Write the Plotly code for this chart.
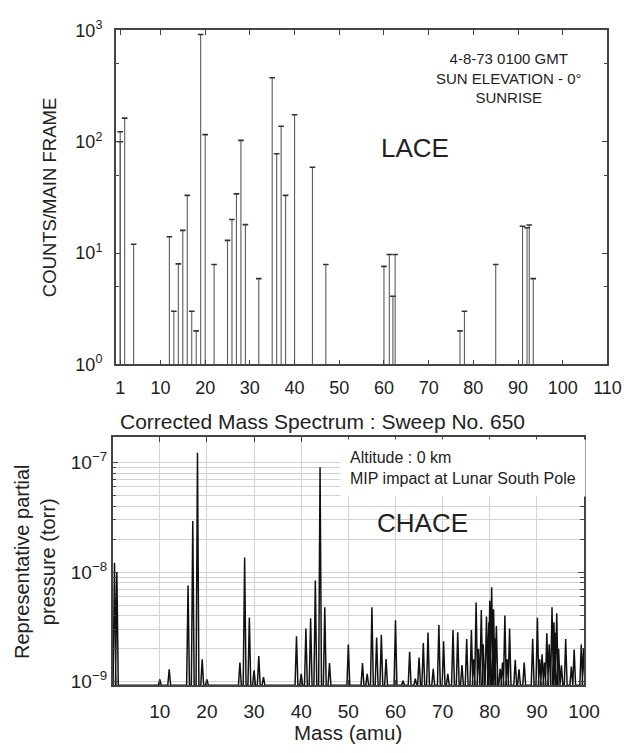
import plotly.graph_objects as go

# ---- LACE (Apollo 17) counts per main frame ----
lace_mass = [1, 1, 2, 4, 12, 13, 14, 15, 16, 17, 18, 19, 20, 22, 25, 26, 27, 28, 29,
             32, 35, 36, 37, 38, 40, 44, 47, 60, 61.2, 62.0, 62.5, 77, 78, 85,
             91, 92, 92.5, 93.4]
lace_counts = [123, 100, 163, 12, 14, 3.0, 8.0, 16, 33, 3.0, 2.0, 920, 116, 7.9, 13, 20, 34, 103, 18,
               5.9, 376, 78, 138, 33, 175, 59, 7.9, 7.6, 9.7, 4.1, 9.7, 2.0, 3.0, 7.9,
               17.4, 16.9, 17.9, 5.9]

# ---- CHACE (Chandrayaan-1 MIP) corrected spectrum peaks ----
chace_mass = [0.4, 0.9, 10, 12, 16, 17, 18, 19, 20, 27, 28, 29, 30, 31, 32,
              39, 40, 41, 42, 43, 44, 45, 46, 50, 53, 54, 55, 56, 57, 58, 60, 61.6,
              63, 64.2, 65, 65.9, 66.9, 68, 69.2, 70.2, 71.1, 72.2, 73.2, 74.1, 75.1,
              76.1, 76.6, 77.1, 77.6, 78.2, 78.6, 79.3, 79.8, 80.0, 80.4, 80.8, 81.0,
              81.4, 82.2, 82.7, 83.2, 83.7, 84.2, 85.4, 86.2, 87.3, 89.1, 90.1, 90.6,
              91.1, 91.6, 92.1, 92.6, 93.2, 93.6, 93.8, 94.2, 94.6, 95.2, 96.1, 97.3,
              97.9, 99.4, 99.9]
chace_pressure = [1.22e-8, 1.0e-8, 1.05e-9, 1.3e-9, 7.55e-9, 2.94e-8, 1.23e-7, 1.6e-9, 1.05e-9,
                  1.5e-9, 1.36e-8, 3.85e-9, 1.27e-9, 1.72e-9, 1.1e-9,
                  2.6e-9, 1.18e-9, 3.07e-9, 3.8e-9, 8.4e-9, 9.1e-8, 4.78e-9, 1.48e-9, 2.19e-9,
                  1.48e-9, 1.18e-9, 4.78e-9, 2.54e-9, 2.68e-9, 1.61e-9, 3.64e-9, 1.02e-9,
                  1.88e-9, 1.07e-9, 1.66e-9, 2.26e-9, 2.81e-9, 1.31e-9, 3.29e-9, 2.34e-9,
                  1.18e-9, 2.97e-9, 2.83e-9, 1.42e-9, 2.45e-9,
                  2.97e-9, 1.6e-9, 5.3e-9, 2.0e-9, 4.53e-9, 2.2e-9, 3.95e-9, 3.5e-9, 5.5e-9,
                  7.3e-9, 4.6e-9, 2.5e-9,
                  3.22e-9, 1.31e-9, 1.5e-9, 4.03e-9, 1.6e-9, 3.07e-9, 1.59e-9, 1.3e-9, 1.5e-9,
                  2.47e-9, 3.83e-9, 1.6e-9,
                  1.78e-9, 1.5e-9, 2.77e-9, 2.2e-9, 4.78e-9, 3.5e-9, 2.8e-9, 4.23e-9, 2.0e-9,
                  1.41e-9, 2.45e-9, 1.38e-9,
                  1.97e-9, 2.19e-9, 2.0e-9]
chace_floor = 9.3e-10

lace_xticks = [1, 10, 20, 30, 40, 50, 60, 70, 80, 90, 100, 110]
chace_xticks = [10, 20, 30, 40, 50, 60, 70, 80, 90, 100]

W, H = 642, 753


def px(x):
    return x / W


def py(y):
    return 1 - y / H


FONT = "Liberation Sans, Arial, sans-serif"
fig = go.Figure()

# LACE stems with small caps
sx, sy = [], []
for m, c in zip(lace_mass, lace_counts):
    sx += [m, m, None]
    sy += [1, c, None]
fig.add_trace(go.Scatter(x=sx, y=sy, mode="lines", line=dict(color="#5c5c5c", width=1.1),
                         xaxis="x", yaxis="y", hoverinfo="skip", showlegend=False))
fig.add_trace(go.Scatter(x=lace_mass, y=lace_counts, mode="markers",
                         marker=dict(symbol="line-ew", size=4, line=dict(color="#333", width=1.6)),
                         xaxis="x", yaxis="y", showlegend=False))

# CHACE spectrum as narrow peaks over the floor
half = 0.3
cx, cy = [], []
for m, p in sorted(zip(chace_mass, chace_pressure)):
    cx += [m - half, m, m + half]
    cy += [chace_floor, p, chace_floor]
fig.add_trace(go.Scatter(x=cx, y=cy, mode="lines", line=dict(color="#111", width=1.5),
                         xaxis="x2", yaxis="y2", showlegend=False))

common = dict(showline=True, linecolor="#444", linewidth=1.5, mirror="allticks",
              ticks="inside", tickcolor="#444", zeroline=False)

fig.update_layout(
    width=W, height=H, margin=dict(l=0, r=0, t=0, b=0), autosize=False,
    plot_bgcolor="white", paper_bgcolor="white", showlegend=False,
    xaxis=dict(domain=[px(118.7), px(623)], range=[0, 110], tickvals=lace_xticks,
               ticklen=5, showgrid=False, anchor="y", ticklabelstandoff=6,
               tickfont=dict(family=FONT, size=18, color="#222"), **common),
    yaxis=dict(domain=[py(363), py(19)], type="log", range=[0, 3],
               tickvals=[1, 10, 100, 1000],
               ticktext=["10<sup>0</sup>", "10<sup>1</sup>", "10<sup>2</sup>", "10<sup>3</sup>"],
               ticklen=6, showgrid=False, anchor="x", ticklabelstandoff=8,
               tickfont=dict(family=FONT, size=18, color="#222"),
               minor=dict(tickvals=[5, 50, 500], ticks="inside", ticklen=4, tickcolor="#444"),
               **common),
    xaxis2=dict(domain=[px(115.5), px(599)], range=[0, 100], tickvals=chace_xticks,
                ticklen=5, showgrid=True, gridcolor="#d2d2d2", gridwidth=1,
                anchor="y2", ticklabelstandoff=8,
                tickfont=dict(family=FONT, size=19, color="#222"), **common),
    yaxis2=dict(domain=[py(693.3), py(438.3)], type="log", range=[-9.03, -6.77],
                tickvals=[1e-9, 1e-8, 1e-7],
                ticktext=["10<sup>\u22129</sup>", "10<sup>\u22128</sup>", "10<sup>\u22127</sup>"],
                ticklen=6, showgrid=True, gridcolor="#d2d2d2", gridwidth=1,
                anchor="x2", ticklabelstandoff=0,
                tickfont=dict(family=FONT, size=19, color="#222"),
                minor=dict(tickvals=[k * 1e-9 for k in range(2, 10)] + [k * 1e-8 for k in range(2, 10)],
                           ticks="inside", ticklen=4, tickcolor="#444",
                           showgrid=True, gridcolor="#d2d2d2", gridwidth=1),
                **common),
)

ann = [
    dict(text="4-8-73 0100 GMT<br>SUN ELEVATION - 0°<br>SUNRISE", x=px(522), y=py(67.5),
         font=dict(size=15), align="center"),
    dict(text="LACE", x=px(426), y=py(140), font=dict(size=26)),
    dict(text="COUNTS/MAIN FRAME", x=px(51), y=py(191), font=dict(size=18.5), textangle=-90),
    dict(text="Corrected Mass Spectrum : Sweep No. 650", x=px(331), y=py(421.7),
         font=dict(size=21)),
    dict(text="Altitude : 0 km<br>MIP impact at Lunar South Pole", x=px(349), y=py(470),
         xanchor="left", align="left", font=dict(size=16), bgcolor="white", borderpad=9),
    dict(text="CHACE", x=px(433), y=py(526.7), font=dict(size=26)),
    dict(text="Representative partial<br>pressure (torr)", x=px(36.5), y=py(566),
         font=dict(size=20), textangle=-90, align="center"),
    dict(text="Mass (amu)", x=px(356.7), y=py(742), font=dict(size=20.5), yanchor="middle"),
]
for a in ann:
    a.setdefault("xanchor", "center")
    a.setdefault("yanchor", "middle")
    a["font"] = dict(family=FONT, color="#222", **a["font"])
    fig.add_annotation(xref="paper", yref="paper", showarrow=False, **a)

fig.write_html("out.html")
